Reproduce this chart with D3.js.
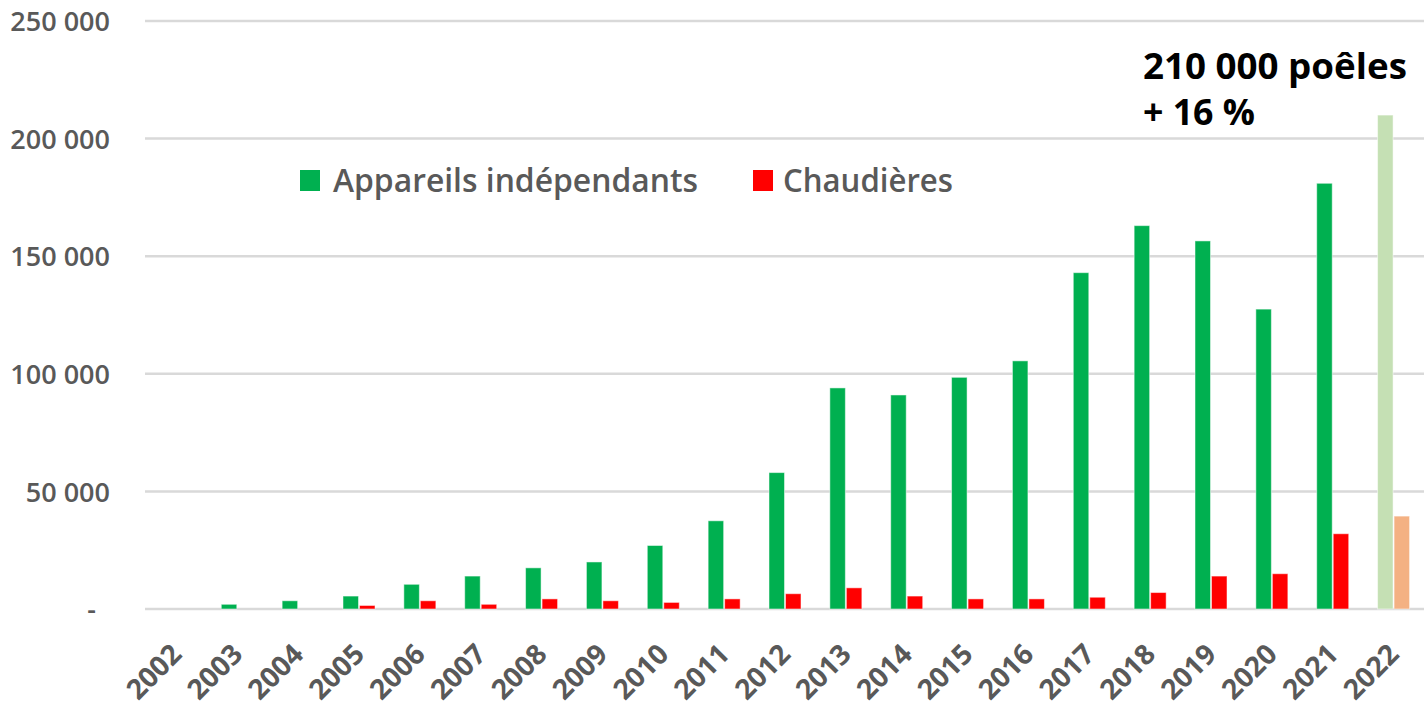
<!DOCTYPE html>
<html>
<head>
<meta charset="utf-8">
<script src="https://cdn.jsdelivr.net/npm/d3@7"></script>
<style>
  html, body { margin: 0; padding: 0; background: #fff; }
  svg { display: block; font-family: "Open Sans", sans-serif; }
</style>
</head>
<body>
<svg id="chart" width="1424" height="708"></svg>
<script>
// ---- Data ----
const years = ["2002","2003","2004","2005","2006","2007","2008","2009","2010","2011","2012",
               "2013","2014","2015","2016","2017","2018","2019","2020","2021","2022"];
const appareils = [0, 2000, 3500, 5500, 10500, 14000, 17500, 20000, 27000, 37500, 58000,
                   94000, 91000, 98500, 105500, 143000, 163000, 156500, 127500, 181000, 210000];
const chaudieres = [0, 0, 0, 1500, 3500, 2000, 4300, 3500, 2800, 4300, 6500,
                    9000, 5500, 4300, 4300, 5000, 7000, 14000, 15000, 32000, 39500];
const seriesNames = ["Appareils indépendants", "Chaudières"];
const yTicks = [0, 50000, 100000, 150000, 200000, 250000];
const annotationLines = ["210 000 poêles", "+ 16 %"];

// ---- Setup ----
const svg = d3.select("#chart");
const plotLeft = 146, plotRight = 1424, plotTop = 21, plotBottom = 609;
const seriesColors = ["#00B050", "#FF0000"];
const estimateColors = ["#C5E0B4", "#F4B183"];
const estimateYear = "2022";

const x0 = d3.scaleBand().domain(years).range([plotLeft, plotRight])
  .paddingInner(0.474).paddingOuter(0.237);
const x1 = d3.scaleBand().domain([0, 1]).range([0, x0.bandwidth()]).paddingInner(0.06);
const y = d3.scaleLinear().domain([0, 250000]).range([plotBottom, plotTop]);

const locale = d3.formatLocale({decimal: ",", thousands: " ", grouping: [3], currency: ["", " €"]});
const fmt = locale.format(",d");

// Gridlines
svg.append("g").selectAll("line").data(yTicks).join("line")
  .attr("x1", 145).attr("x2", 1424)
  .attr("y1", d => y(d)).attr("y2", d => y(d))
  .attr("stroke", "#d9d9d9").attr("stroke-width", 2.5);

// Y axis
const yAxis = svg.append("g").attr("transform", "translate(110,0)")
  .call(d3.axisLeft(y).tickValues(yTicks).tickSize(0).tickPadding(0)
    .tickFormat(d => d === 0 ? "-" : fmt(d)));
yAxis.select(".domain").remove();
yAxis.selectAll("text")
  .attr("fill", "#595959").attr("font-size", 27).attr("font-weight", 600)
  .attr("font-family", "'Open Sans', sans-serif")
  .attr("dy", "0.36em")
  .attr("x", d => d === 0 ? -14 : 0);

// Bars
const rows = years.map((yr, i) => ({year: yr, vals: [appareils[i], chaudieres[i]]}));
const groups = svg.append("g").selectAll("g").data(rows).join("g")
  .attr("transform", d => `translate(${x0(d.year)},0)`);
groups.selectAll("rect")
  .data(d => d.vals.map((v, k) => ({k, v, year: d.year})).filter(e => e.v > 0))
  .join("rect")
  .attr("x", d => x1(d.k))
  .attr("width", x1.bandwidth())
  .attr("y", d => y(d.v))
  .attr("height", d => y(0) - y(d.v))
  .attr("fill", d => d.year === estimateYear ? estimateColors[d.k] : seriesColors[d.k])
  .attr("stroke", "#ffffff").attr("stroke-opacity", 0.5).attr("stroke-width", 1);

// X axis
const xAxis = svg.append("g").attr("transform", `translate(0,${plotBottom})`)
  .call(d3.axisBottom(x0).tickSize(0).tickPadding(0));
xAxis.select(".domain").remove();
xAxis.selectAll("text")
  .attr("fill", "#595959").attr("font-size", 28).attr("font-weight", 700)
  .attr("font-family", "'Open Sans', sans-serif")
  .attr("text-anchor", "end")
  .attr("dy", 0).attr("y", 0)
  .attr("transform", "translate(7,47) rotate(-45)");

// Legend
const legend = svg.append("g");
const legendItems = [
  {name: seriesNames[0], color: seriesColors[0], sx: 300, tx: 333, tw: 365},
  {name: seriesNames[1], color: seriesColors[1], sx: 753, tx: 783, tw: 170}
];
legendItems.forEach(it => {
  legend.append("rect").attr("x", it.sx).attr("y", 170).attr("width", 20).attr("height", 21)
    .attr("fill", it.color);
  legend.append("text").attr("x", it.tx).attr("y", 192)
    .attr("fill", "#595959").attr("font-size", 33).attr("font-weight", 600)
    .attr("textLength", it.tw).attr("lengthAdjust", "spacingAndGlyphs")
    .text(it.name);
});

// Annotation
const ann = svg.append("g");
ann.append("text").attr("x", 1143).attr("y", 79)
  .attr("font-size", 35).attr("font-weight", 700).attr("fill", "#000")
  .attr("textLength", 264).attr("lengthAdjust", "spacingAndGlyphs")
  .text(annotationLines[0]);
ann.append("text").attr("x", 1143).attr("y", 125)
  .attr("font-size", 35).attr("font-weight", 700).attr("fill", "#000")
  .attr("textLength", 112).attr("lengthAdjust", "spacingAndGlyphs")
  .text(annotationLines[1]);
</script>
</body>
</html>
